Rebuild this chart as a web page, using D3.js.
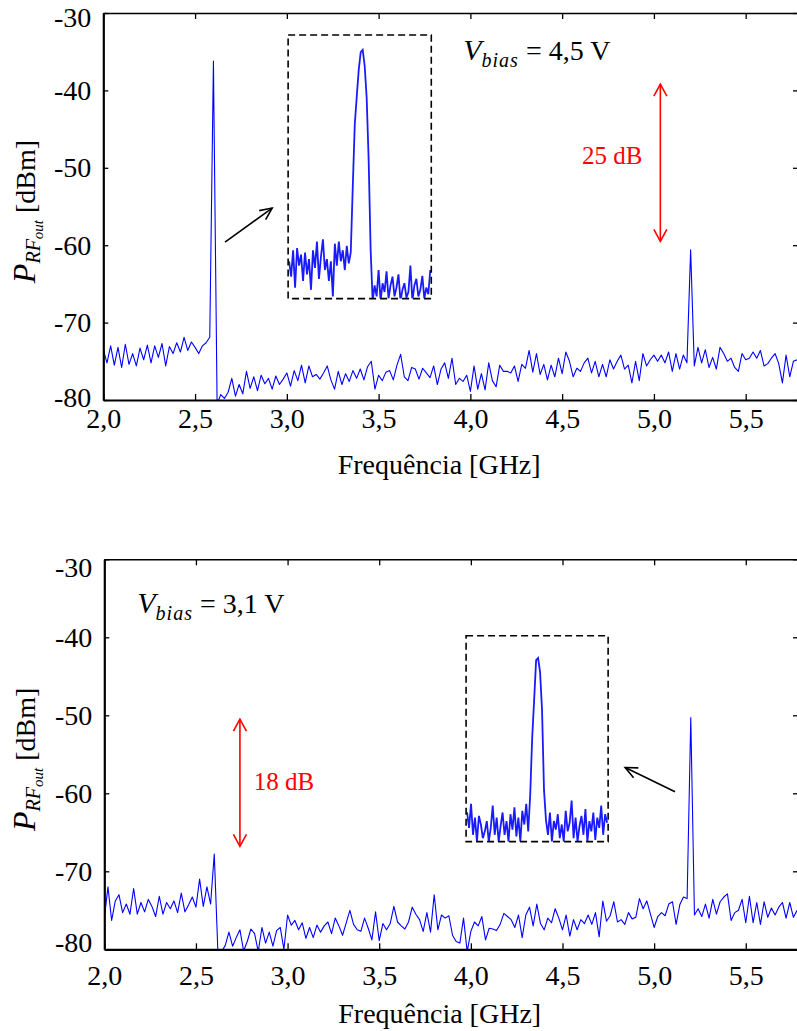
<!DOCTYPE html>
<html>
<head>
<meta charset="utf-8">
<script src="https://cdn.jsdelivr.net/npm/d3@7"></script>
<style>
body { margin: 0; background: #fff; }
svg { display: block; }
</style>
</head>
<body>
<script>
var svg_width = 797, svg_height = 1031;
var font = '"Liberation Serif", "Times New Roman", serif';
var trace_color = '#0000ff';
var inset_color = '#1a1aff';
var red = '#ff0000';

// analyzer frequency grid [GHz]
var freqs = d3.range(190).map(function(i) { return +(2 + i * 0.02).toFixed(2) });
var x_ticks = [2.0, 2.5, 3.0, 3.5, 4.0, 4.5, 5.0, 5.5];
var y_ticks = [-30, -40, -50, -60, -70, -80];

// Vbias = 4,5 V  [dBm]
var top_trace = [
	-73.5, -75.2, -73.0, -75.5, -73.2, -75.8, -72.8, -75.4, -74.0, -75.6,
	-73.3, -74.8, -72.9, -75.2, -73.0, -74.5, -72.7, -75.6, -73.1, -74.0,
	-72.6, -73.8, -71.9, -73.6, -72.5, -73.2, -74.0, -73.0, -72.6, -71.9,
	-36.2,
	-80.5, -79.3, -79.8, -79.0, -77.2, -79.5, -78.0, -79.2, -76.3, -78.5,
	-77.0, -78.8, -76.8, -77.9, -77.2, -78.6, -76.9, -78.0, -77.3, -76.5,
	-78.2, -76.2, -77.5, -75.5, -77.8, -75.6, -77.0, -76.7, -77.3, -76.5,
	-75.6,
	-77.4, -78.6, -76.3, -78.0, -76.6, -77.6, -76.2, -77.2, -76.0, -77.4,
	-75.7, -75.0, -78.6, -76.8, -77.5, -76.4, -76.2, -77.4, -75.5, -74.1,
	-77.0, -77.5, -75.8, -76.0, -77.3, -75.9, -76.5, -77.1, -75.6, -78.0,
	-76.0, -75.2, -77.2, -74.6, -78.0, -77.2, -77.6, -76.8, -78.9, -75.6,
	-78.6, -76.6, -78.7, -75.2, -77.5, -78.3, -75.5, -76.3, -76.3, -76.5,
	-75.6, -77.6, -75.4, -75.9, -73.6, -76.4, -74.0, -76.7, -75.4, -77.4,
	-75.5, -77.0, -74.6, -76.6,
	-73.8, -75.0, -77.0, -75.9, -76.3, -75.2, -74.6, -76.5, -75.0, -77.0,
	-75.4, -77.0, -74.8, -76.0, -75.0, -74.2, -76.0, -75.5, -77.8, -75.0,
	-77.5, -74.0, -75.6, -74.8, -74.2, -75.0, -74.2, -75.2, -73.8, -76.3,
	-74.0, -76.0, -74.2, -75.2, -60.6, -75.6, -73.2, -75.2, -73.5, -75.8,
	-74.5, -76.0, -73.2, -74.0, -75.0, -74.6, -75.8, -76.3, -74.0, -74.8,
	-74.6, -73.8, -74.6, -73.6, -75.6, -75.3, -74.6, -74.0, -75.3, -77.8,
	-74.2, -77.0, -75.0, -74.8
];

// Vbias = 3,1 V  [dBm]
var bottom_trace = [
	-76.0, -72.0, -76.3, -73.8, -73.0, -75.3, -74.2, -75.5, -72.2, -75.5,
	-74.0, -75.2, -73.6, -74.5, -75.8, -73.2, -75.5, -74.0, -74.8, -73.8,
	-75.3, -72.8, -75.2, -74.3, -73.3, -74.6, -71.0, -74.5, -72.0, -74.2,
	-67.8,
	-80.5, -80.3, -79.5, -77.8, -79.6, -78.5, -77.5, -80.2, -79.0, -77.4,
	-78.0, -80.3, -77.2, -79.2, -77.8, -79.6, -77.6, -77.2, -80.0, -75.6,
	-76.9, -76.3, -77.5, -76.6, -78.6, -77.2, -78.5, -76.9, -77.8, -77.0,
	-76.5,
	-78.0, -76.0, -77.0, -78.2, -76.6, -75.0, -76.8, -77.5, -77.7, -76.0,
	-77.3, -78.8, -75.2, -78.9, -76.7, -77.5, -76.7, -74.5, -76.5, -77.0,
	-77.4, -76.5, -74.6, -75.5, -76.2, -77.7, -75.3, -77.8, -73.0, -77.5,
	-75.6, -76.0, -75.7, -78.2, -79.0, -79.2, -76.0, -80.3, -77.7, -76.5,
	-77.0, -75.8, -78.8, -77.3, -77.4, -77.6, -76.8, -75.4, -75.8, -76.2,
	-77.2, -75.6, -78.5, -75.6, -74.6, -77.0, -74.2, -76.7, -77.5, -76.0,
	-76.6, -74.8, -76.0, -77.5,
	-75.6, -78.3, -76.2, -77.5, -76.2, -76.7, -75.6, -76.8, -75.3, -78.4,
	-73.8, -76.4, -75.7, -73.9, -76.5, -76.2, -76.8, -75.3, -76.1, -75.9,
	-73.5, -74.8, -73.8, -75.5, -77.2, -75.8, -75.3, -75.7, -74.2, -73.9,
	-76.8, -74.3, -73.3, -73.5, -50.3, -75.6, -74.8, -75.8, -74.2, -76.0,
	-73.6, -75.5, -73.9, -73.3, -72.9, -76.3, -75.3, -75.0, -73.6, -76.6,
	-73.2, -76.6, -74.0, -76.8, -73.9, -75.9, -74.7, -75.6, -74.6, -74.0,
	-76.0, -74.0, -75.9, -75.0
];

// zoomed views (samples 0..71), level [dBm]
var top_inset = [
	-86.5, -90.0, -84.0, -92.5, -83.5, -87.5, -85.0, -91.0, -84.5, -89.5,
	-86.0, -93.0, -84.0, -88.0, -82.0, -90.5, -85.5, -81.5, -88.5, -86.0,
	-91.0, -86.5, -94.5, -82.5, -87.5, -82.0, -86.5, -84.0, -88.5, -83.0,
	-87.0, -84.5,
	-69.8, -55.5, -49.1, -43.0, -38.9, -38.4, -42.0, -49.3, -63.4, -83.9, -95.5,
	-92.0, -94.5, -88.5, -95.5, -91.5, -93.5, -88.8, -95.0, -92.0, -90.0,
	-94.5, -92.5, -89.5, -95.5, -93.0, -91.5, -94.8, -93.5, -87.5, -95.5,
	-92.0, -90.5, -94.5, -93.0, -89.8, -95.0, -92.5, -94.0, -88.5
];
var bottom_inset = [
	-86.5, -91.0, -84.0, -93.0, -88.0, -95.0, -87.5, -90.0, -94.0, -92.0,
	-89.0, -95.0, -91.0, -84.5, -93.0, -88.0, -95.0, -90.5, -86.5, -93.0,
	-89.0, -95.0, -87.0, -91.5, -85.0, -93.5, -88.0, -95.0, -86.0, -90.0,
	-84.0, -92.0,
	-81.4, -64.8, -53.7, -42.1, -41.5, -45.6, -56.6, -80.0,
	-88.7, -93.0, -86.5, -95.0, -89.0, -91.5, -87.0, -94.0, -90.0, -95.0,
	-86.0, -92.0, -89.5, -83.0, -94.0, -88.0, -95.0, -90.5, -87.5, -93.0,
	-85.5, -95.0, -89.0, -92.0, -86.5, -94.5, -88.0, -91.0, -84.5, -93.0,
	-87.0, -89.5
];

var panels = [
	{id: 'p1', left: 103.3, top: 13, bottom: 400, trace: top_trace, xpad: 8, edge: [5, -2],
	 vbias: '4,5 V', vpos: [3.961, -36.1],
	 inset: {x0: 3.007, x1: 3.787, y0: -32.84, y1: -66.9, data: top_inset},
	 pointer: [[2.663, -59.6], [2.92, -55.2]],
	 gap: {x: 5.035, y0: -39.2, y1: -59.5, label: '25 dB', lx: 4.937, ly: -49.5, anchor: 'end'}},
	{id: 'p2', left: 104.3, top: 559.3, bottom: 949.3, trace: bottom_trace, xpad: 16, edge: [8, -7],
	 vbias: '3,1 V', vpos: [2.18, -36.85],
	 inset: {x0: 3.974, x1: 4.749, y0: -39.8, y1: -66.2, data: bottom_inset},
	 pointer: [[5.114, -59.8], [4.842, -56.7]],
	 gap: {x: 2.74, y0: -50.5, y1: -66.8, label: '18 dB', lx: 2.815, ly: -59.55, anchor: 'start'}}
];

var svg = d3.select("body").append("svg")
	.attr("width", svg_width)
	.attr("height", svg_height)
	.style("background", "#fff");

function comma(d) { return d3.format(".1f")(d).replace(".", ",") }

function arrow_head(g, x1, y1, x2, y2, color, len, half, width) {
	var a = Math.atan2(y2 - y1, x2 - x1);
	var bx = x2 - len * Math.cos(a), by = y2 - len * Math.sin(a);
	var nx = -Math.sin(a) * half, ny = Math.cos(a) * half;
	g.append("path")
		.attr("d", "M" + (bx + nx) + "," + (by + ny) + "L" + x2 + "," + y2 + "L" + (bx - nx) + "," + (by - ny))
		.attr("fill", "none")
		.attr("stroke", color)
		.attr("stroke-width", width)
}

function style_axis(ax, w) {
	ax.attr("font-family", font).attr("font-size", 28);
	ax.select(".domain").attr("stroke", "#000").attr("stroke-width", w);
	ax.selectAll(".tick line").attr("stroke", "#000").attr("stroke-width", 1.3);
	ax.selectAll(".tick text").attr("fill", "#000");
}

function draw_panel(p) {
	var right = 798;
	var x = d3.scaleLinear().domain([2, 5.785]).range([p.left, right]);
	var y = d3.scaleLinear().domain([-80, -30]).range([p.bottom, p.top]);
	var g = svg.append("g").attr("id", p.id);

	g.append("clipPath").attr("id", p.id + "_clip")
		.append("rect")
		.attr("x", p.left).attr("y", p.top)
		.attr("width", right - p.left).attr("height", p.bottom - p.top);

	var line = d3.line()
		.x(function(d, i) { return x(freqs[i]) })
		.y(function(d) { return y(d) });

	g.append("path")
		.datum(p.trace)
		.attr("clip-path", "url(#" + p.id + "_clip)")
		.attr("d", line)
		.attr("fill", "none")
		.attr("stroke", trace_color)
		.attr("stroke-width", 1.1)
		.attr("stroke-linejoin", "round");

	// axes, ticks pointing inwards
	var ax_b = g.append("g").attr("transform", "translate(0," + p.bottom + ")")
		.call(d3.axisBottom(x).tickValues(x_ticks).tickFormat(comma).tickSizeInner(-6).tickSizeOuter(0).tickPadding(p.xpad));
	style_axis(ax_b, 2.2);
	var ax_t = g.append("g").attr("transform", "translate(0," + p.top + ")")
		.call(d3.axisTop(x).tickValues(x_ticks).tickFormat("").tickSizeInner(-6).tickSizeOuter(0));
	style_axis(ax_t, 1.5);
	var ax_l = g.append("g").attr("transform", "translate(" + p.left + ",0)")
		.call(d3.axisLeft(y).tickValues(y_ticks).tickFormat(function(d) { return String(d) }).tickSizeInner(-5).tickSizeOuter(0).tickPadding(12));
	style_axis(ax_l, 2.2);
	// end labels sit a little inside the frame
	ax_l.selectAll(".tick text")
		.attr("y", function(d) { return d == -30 ? p.edge[0] : (d == -80 ? p.edge[1] : 0) });
	var ax_r = g.append("g").attr("transform", "translate(" + right + ",0)")
		.call(d3.axisRight(y).tickValues(y_ticks).tickFormat("").tickSizeInner(-5).tickSizeOuter(0));
	style_axis(ax_r, 1.5);

	// axis titles
	g.append("text")
		.attr("x", x(3.83))
		.attr("y", p.bottom + 74)
		.attr("text-anchor", "middle")
		.attr("font-family", font)
		.attr("font-size", 28)
		.text("Frequência [GHz]");

	var yt = g.append("text")
		.attr("transform", "translate(35," + ((p.top + p.bottom) / 2 + 5) + ") rotate(-90)")
		.attr("text-anchor", "middle")
		.attr("font-family", font)
		.attr("font-size", 28);
	yt.append("tspan").attr("font-style", "italic").attr("font-size", 32).text("P");
	yt.append("tspan").attr("font-style", "italic").attr("font-size", 20).attr("dy", 5).text("RF");
	yt.append("tspan").attr("font-style", "italic").attr("font-size", 15).attr("dy", 3).text("out");
	yt.append("tspan").attr("dy", -8).text(" [dBm]");

	// bias label
	var vb = g.append("text")
		.attr("x", x(p.vpos[0]))
		.attr("y", y(p.vpos[1]))
		.attr("font-family", font)
		.attr("font-size", 28);
	vb.append("tspan").attr("font-style", "italic").attr("font-size", 30).text("V");
	vb.append("tspan").attr("font-style", "italic").attr("font-size", 20).attr("dy", 7).attr("letter-spacing", 1).text("bias");
	vb.append("tspan").attr("dy", -7).text(" = " + p.vbias);

	// zoomed inset
	var ins = p.inset;
	var bx0 = x(ins.x0), bx1 = x(ins.x1), by0 = y(ins.y0), by1 = y(ins.y1);
	var ix = d3.scaleLinear().domain([0, ins.data.length - 1]).range([bx0 + 1, bx1 - 1]);
	var iy = d3.scaleLinear().domain([-95, -35]).range([by1, by0]);
	g.append("clipPath").attr("id", p.id + "_iclip")
		.append("rect")
		.attr("x", bx0).attr("y", by0)
		.attr("width", bx1 - bx0).attr("height", by1 - by0);
	g.append("path")
		.datum(ins.data)
		.attr("clip-path", "url(#" + p.id + "_iclip)")
		.attr("d", d3.line()
			.x(function(d, i) { return ix(i) })
			.y(function(d) { return iy(d) }))
		.attr("fill", "none")
		.attr("stroke", inset_color)
		.attr("stroke-width", 1.8);
	g.append("rect")
		.attr("x", bx0).attr("y", by0)
		.attr("width", bx1 - bx0).attr("height", by1 - by0)
		.attr("fill", "none")
		.attr("stroke", "#000")
		.attr("stroke-width", 1.6)
		.attr("stroke-dasharray", "7,4");

	// pointer arrow to the inset
	var a0 = [x(p.pointer[0][0]), y(p.pointer[0][1])], a1 = [x(p.pointer[1][0]), y(p.pointer[1][1])];
	g.append("line")
		.attr("x1", a0[0]).attr("y1", a0[1])
		.attr("x2", a1[0]).attr("y2", a1[1])
		.attr("stroke", "#000").attr("stroke-width", 1.6);
	arrow_head(g, a0[0], a0[1], a1[0], a1[1], "#000", 12, 5.5, 1.6);

	// red level difference
	var gp = p.gap;
	var gx = x(gp.x), gy0 = y(gp.y0), gy1 = y(gp.y1);
	g.append("line")
		.attr("x1", gx).attr("y1", gy0)
		.attr("x2", gx).attr("y2", gy1)
		.attr("stroke", red).attr("stroke-width", 1.6);
	arrow_head(g, gx, gy1, gx, gy0, red, 12, 6.5, 1.6);
	arrow_head(g, gx, gy0, gx, gy1, red, 12, 6.5, 1.6);
	g.append("text")
		.attr("x", x(gp.lx))
		.attr("y", y(gp.ly))
		.attr("text-anchor", gp.anchor)
		.attr("font-family", font)
		.attr("font-size", 25)
		.attr("fill", red)
		.text(gp.label);
}

panels.forEach(function(p) { draw_panel(p) });
</script>
</body>
</html>
